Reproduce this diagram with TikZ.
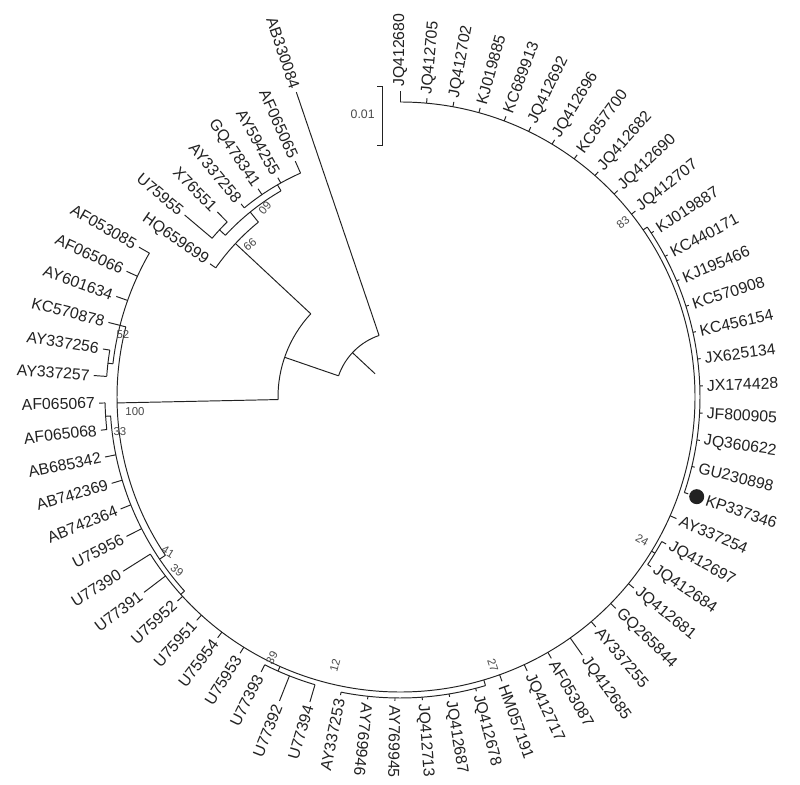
\documentclass[tikz,border=0pt]{standalone}
\usepackage{fontspec}
\setmainfont{Liberation Sans}
\definecolor{Paper}{HTML}{FFFFFF}
\definecolor{Ink}{HTML}{222222}
\definecolor{BootGray}{HTML}{4A4A4A}

\begin{document}
\begin{tikzpicture}[x=0.02cm,y=0.02cm,every node/.style={text=Ink},branch/.style={draw=Ink,line width=0.55pt},tiplabel/.style={font=\fontsize{9}{10}\selectfont,inner sep=0.5pt},bootlabel/.style={font=\fontsize{6.5}{7}\selectfont,text=BootGray,inner sep=0pt}]
\fill[Paper] (-400,-387) rectangle (400,397);
\useasboundingbox (-400,-387) rectangle (400,397);
\newcommand{\tarc}[3]{\draw[branch] ({90-#2}:#1) arc[start angle={90-#2},end angle={90-#3},radius={#1*0.02cm}];}
\newcommand{\tbranch}[3]{\draw[branch] ({90-#1}:#2)--({90-#1}:#3);}
\newcommand{\taxon}[4]{\draw[branch] ({90-#2}:#3)--({90-#2}:#4);\pgfmathsetmacro{\tang}{90-#2}\ifdim #2pt<188pt\node[tiplabel,rotate=\tang,anchor=west](#1) at ({\tang}:{#4+3}){#1};\else\pgfmathsetmacro{\tangb}{\tang+180}\node[tiplabel,rotate=\tangb,anchor=east](#1) at ({\tang}:{#4+3}){#1};\fi}
\newcommand{\boot}[5]{\node[bootlabel,rotate=#5](#1) at (#3,#4){#2};}
\tbranch{313}{34}{65}
\tarc{65}{289}{341.22}
\taxon{AB330084}{341.22}{65}{322}
\tbranch{289}{65}{122}
\tarc{122}{268.8}{313}
\tbranch{268.8}{122}{283}
\tbranch{313}{122}{225}
\tarc{225}{305.03}{321}
\taxon{HQ659699}{305.03}{225}{232}
\tbranch{321}{225}{238}
\tarc{238}{312.8}{330}
\tbranch{312.8}{238}{246}
\tarc{246}{310.2}{315.37}
\taxon{U75955}{310.2}{246}{282}
\taxon{X76551}{315.37}{246}{260}
\tbranch{330}{238}{245}
\tarc{245}{320.54}{336.05}
\taxon{AY337258}{320.54}{245}{250}
\taxon{GQ478341}{325.71}{245}{252}
\taxon{AY594255}{330.88}{245}{251}
\taxon{AF065065}{336.05}{245}{258}
\tarc{283}{236}{284.35}
\tbranch{284.35}{283}{289}
\tarc{289}{276.6}{299.86}
\tbranch{276.6}{289}{294}
\tarc{294}{274.01}{279.18}
\taxon{AY337257}{274.01}{294}{307}
\taxon{AY337256}{279.18}{294}{301}
\taxon{KC570878}{284.35}{289}{301}
\taxon{AY601634}{289.52}{289}{301}
\taxon{AF065066}{294.69}{289}{301}
\taxon{AF053085}{299.86}{289}{301}
\tbranch{236}{283}{290}
\tarc{290}{228}{266.25}
\tbranch{266.25}{290}{295}
\tarc{295}{263.67}{268.84}
\taxon{AF065068}{263.67}{295}{301}
\taxon{AF065067}{268.84}{295}{301}
\taxon{AB685342}{258.5}{290}{301}
\taxon{AB742369}{253.33}{290}{301}
\taxon{AB742364}{248.16}{290}{301}
\taxon{U75956}{242.99}{290}{307}
\tbranch{228}{290}{295}
\tarc{295}{0}{237.82}
\taxon{U77390}{237.82}{295}{327}
\taxon{U77391}{232.65}{295}{322}
\taxon{U75952}{227.48}{295}{302}
\taxon{U75951}{222.31}{295}{302}
\taxon{U75954}{217.14}{295}{302}
\taxon{U75953}{211.97}{295}{302}
\tbranch{204}{295}{300}
\tarc{300}{196.46}{206.8}
\taxon{U77393}{206.8}{300}{308}
\taxon{U77392}{201.63}{300}{327}
\taxon{U77394}{196.46}{300}{318}
\tbranch{163.5}{295}{301}
\tarc{301}{163.5}{191.29}
\taxon{AY337253}{191.29}{301}{304}
\taxon{AY769946}{186.12}{301}{304}
\taxon{AY769945}{180.95}{301}{304}
\taxon{JQ412713}{175.78}{301}{304}
\taxon{JQ412687}{170.61}{301}{304}
\taxon{JQ412678}{165.44}{301}{304}
\taxon{HM057191}{160.27}{295}{302}
\taxon{JQ412717}{155.1}{295}{302}
\taxon{AF053087}{149.93}{295}{302}
\taxon{JQ412685}{144.76}{295}{316}
\taxon{AY337255}{139.59}{295}{302}
\taxon{GQ265844}{134.42}{295}{302}
\taxon{JQ412681}{129.25}{295}{302}
\tbranch{121.5}{295}{299}
\tarc{299}{118.91}{124.08}
\taxon{JQ412684}{124.08}{299}{303}
\taxon{JQ412697}{118.91}{299}{304}
\taxon{AY337254}{113.74}{295}{302}
\tbranch{55.5}{295}{300}
\tarc{300}{55.5}{108.57}
\draw[branch] ({90-108.57}:300)--({90-108.57}:304);
\fill[Ink] ({90-108.57}:313) circle[radius=0.15cm];
\node[tiplabel,rotate={90-108.57},anchor=west](KP337346) at ({90-108.57}:322){KP337346};
\taxon{GU230898}{103.4}{300}{303}
\taxon{JQ360622}{98.23}{300}{303}
\taxon{JF800905}{93.06}{300}{303}
\taxon{JX174428}{87.89}{300}{303}
\taxon{JX625134}{82.72}{300}{303}
\taxon{KC456154}{77.55}{300}{303}
\taxon{KC570908}{72.38}{300}{303}
\taxon{KJ195466}{67.21}{300}{303}
\taxon{KC440171}{62.04}{300}{303}
\taxon{KJ019887}{56.87}{300}{303}
\taxon{JQ412707}{51.7}{295}{300}
\taxon{JQ412690}{46.53}{295}{300}
\taxon{JQ412682}{41.36}{295}{300}
\taxon{KC857700}{36.19}{295}{300}
\taxon{JQ412696}{31.02}{295}{300}
\taxon{JQ412692}{25.85}{295}{300}
\taxon{KC689913}{20.68}{295}{300}
\taxon{KJ019885}{15.51}{295}{300}
\taxon{JQ412702}{10.34}{295}{300}
\taxon{JQ412705}{5.17}{295}{300}
\taxon{JQ412680}{0}{295}{306}
\boot{b83}{83}{223}{175}{40}
\boot{b24}{24}{242}{-143}{-30}
\boot{b27}{27}{93}{-268}{-72}
\boot{b12}{12}{-65}{-268}{75}
\boot{b39a}{39}{-128}{-261}{62}
\boot{b39b}{39}{-223}{-173}{-38}
\boot{b41}{41}{-232}{-155}{-32}
\boot{b33}{33}{-280}{-35}{0}
\boot{b100}{100}{-265}{-15}{0}
\boot{b52}{52}{-277}{62}{0}
\boot{b60}{60}{-135}{189}{-130}
\boot{b99}{99}{-150}{152}{-140}
\draw[branch] (-23,311)--(-18,311)--(-18,252)--(-23,252);
\node[bootlabel,font=\fontsize{7}{8}\selectfont,anchor=east](scale) at (-25,283){0.01};
\end{tikzpicture}
\end{document}
